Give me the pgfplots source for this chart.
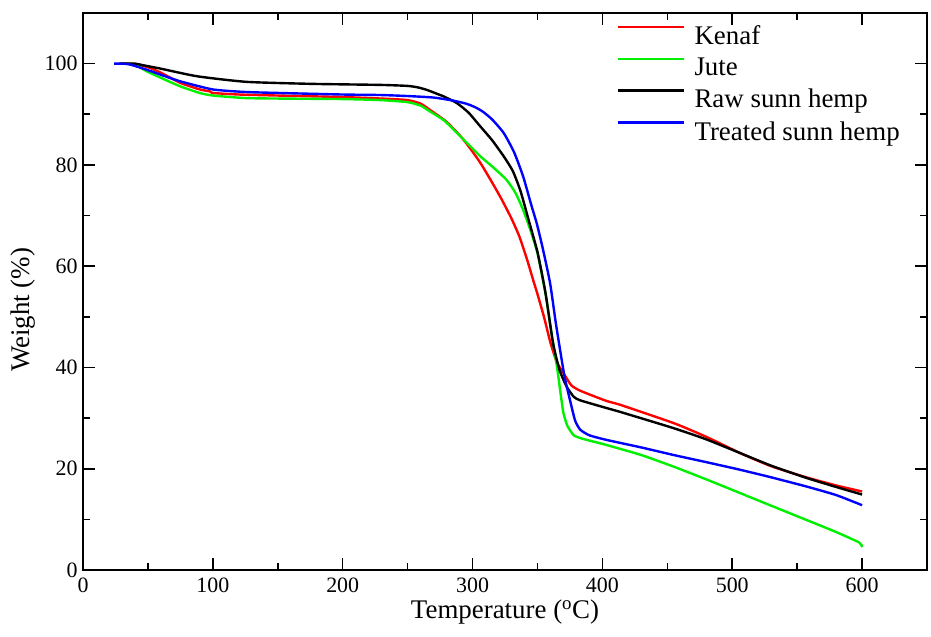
\documentclass[border=0pt]{standalone}
\usepackage{pgfplots}
\pgfplotsset{compat=1.18}
\usepackage{fontspec}
\setmainfont{Liberation Serif}
\definecolor{cred}{RGB}{255,0,0}
\definecolor{cgreen}{RGB}{0,240,0}
\definecolor{cblue}{RGB}{0,0,255}
\begin{document}
\begin{tikzpicture}
\begin{axis}[
  at={(0,0)}, anchor=south west,
  scale only axis, width=844bp, height=557bp,
  xmin=0, xmax=650, ymin=0, ymax=110,
  xtick={0,100,...,600}, ytick={0,20,...,100},
  minor x tick num=1, minor y tick num=1,
  tick align=inside, tick pos=both,
  major tick length=12bp, minor tick length=7bp,
  axis line style={line width=1.6bp},
  every tick/.style={line width=1.6bp, black},
  /pgf/number format/assume math mode=true,
  tick label style={font=\fontsize{22}{26}\selectfont},
  xticklabel style={yshift=-4bp},
  yticklabel style={xshift=-2bp},
  xlabel={Temperature (\textsuperscript{o}C)},
  ylabel={Weight (\%)},
  every axis x label/.style={at={(axis description cs:0.5,-0.0754)},anchor=center,font=\fontsize{27}{32}\selectfont},
  every axis y label/.style={at={(axis description cs:-0.071,0.467)},rotate=90,anchor=center,font=\fontsize{27}{32}\selectfont},
  legend cell align=left,
  legend image code/.code={\draw[#1,line width=2.4bp] (0bp,9bp) -- (66bp,9bp); \path (73bp,9bp);},
  legend style={at={(axis description cs:0.6326,0.981)}, anchor=north west, draw=none, fill=none,
    font=\fontsize{27}{32}\selectfont, inner sep=0pt, row sep=8bp},
  every axis plot/.append style={line width=2.4bp, line join=round, smooth, tension=0.35},
]
\addplot[cred] coordinates {
(30,100) (40,99.9) (50,99.3) (60,98.2) (75,96.2) (90,94.9) (98,94.5) (100,94.2) (120,93.9) (150,93.7)
(200,93.4) (230,93.1) (250,92.8) (260,92.1) (267,90.9) (280,88.5) (293,85.0) (305,80.8) (314,77.0) (322,73.4)
(330,69.4) (336,65.9) (342,61.3) (347,57.0) (350,54.5) (355,50.0) (360,44.9) (365,41.0) (370,38.9) (376,36.5)
(383,35.4) (403,33.4) (414,32.6) (455,29.0) (480,26.3) (506,23.1) (530,20.5) (557,18.3) (580,16.7) (600,15.5)
};
\addlegendentry{Kenaf}
\addplot[cgreen] coordinates {
(31,100) (40,99.8) (49,98.5) (60,97.2) (75,95.5) (90,94.2) (100,93.7) (125,93.2) (152,93.1) (200,93.0)
(229,92.8) (250,92.4) (260,91.7) (267,90.6) (278,88.8) (288,86.3) (297,84.0) (306,81.7) (316,79.5) (326,77.1)
(333,74.5) (339,71.1) (345,66.8) (350,62.6) (354,57.5) (357,53.4) (361,46.5) (365,40.2) (368,34.5)
(370,31.0) (373,28.5) (378,26.6) (385,25.9) (403,24.7) (430,22.7) (455,20.4) (480,17.9) (506,15.2)
(530,12.7) (557,9.9) (580,7.5) (598,5.4) (600,4.5)
};
\addlegendentry{Jute}
\addplot[black] coordinates {
(28,100) (40,100) (46,99.7) (60,99.0) (88,97.5) (126,96.4) (177,96.0) (229,95.8) (250,95.6) (258,95.3) (265,94.8) (272,94.1)
(278,93.5) (288,92.2) (297,90.3) (306,87.6) (315,84.9) (324,81.7) (331,78.8) (337,74.8) (343,69.3)
(350,62.8) (356,55.0) (362,44.8) (367,39.5) (372.5,36.2) (378,34.2) (383,33.5) (403,32.0) (414,31.2)
(455,28.0) (480,25.8) (506,23.1) (530,20.6) (557,18.2) (580,16.4) (600,14.9)
};
\addlegendentry{Raw sunn hemp}
\addplot[cblue] coordinates {
(24,100) (35,99.9) (49,98.8) (60,97.8) (75,96.5) (100,94.9) (125,94.4) (152,94.2) (200,93.9) (229,93.8)
(250,93.6) (270,93.3) (285,92.7) (295,92.1) (302,91.4) (308,90.5) (315,89.0) (324,86.3) (332,82.5) (339,77.7) (345,72.3)
(349.5,68.4) (354,63.6) (359.7,56.7) (364,49.0) (367.4,43.5) (371,38.0) (375,33.6) (379,29.5) (383,27.7)
(390,26.6) (403,25.7) (430,24.2) (455,22.7) (480,21.3) (506,19.8) (530,18.3) (557,16.5) (580,14.8) (600,12.8)
};
\addlegendentry{Treated sunn hemp}
\end{axis}
\pgfresetboundingbox
\path (-83bp,-67bp) rectangle (848bp,570bp);
\end{tikzpicture}
\end{document}
